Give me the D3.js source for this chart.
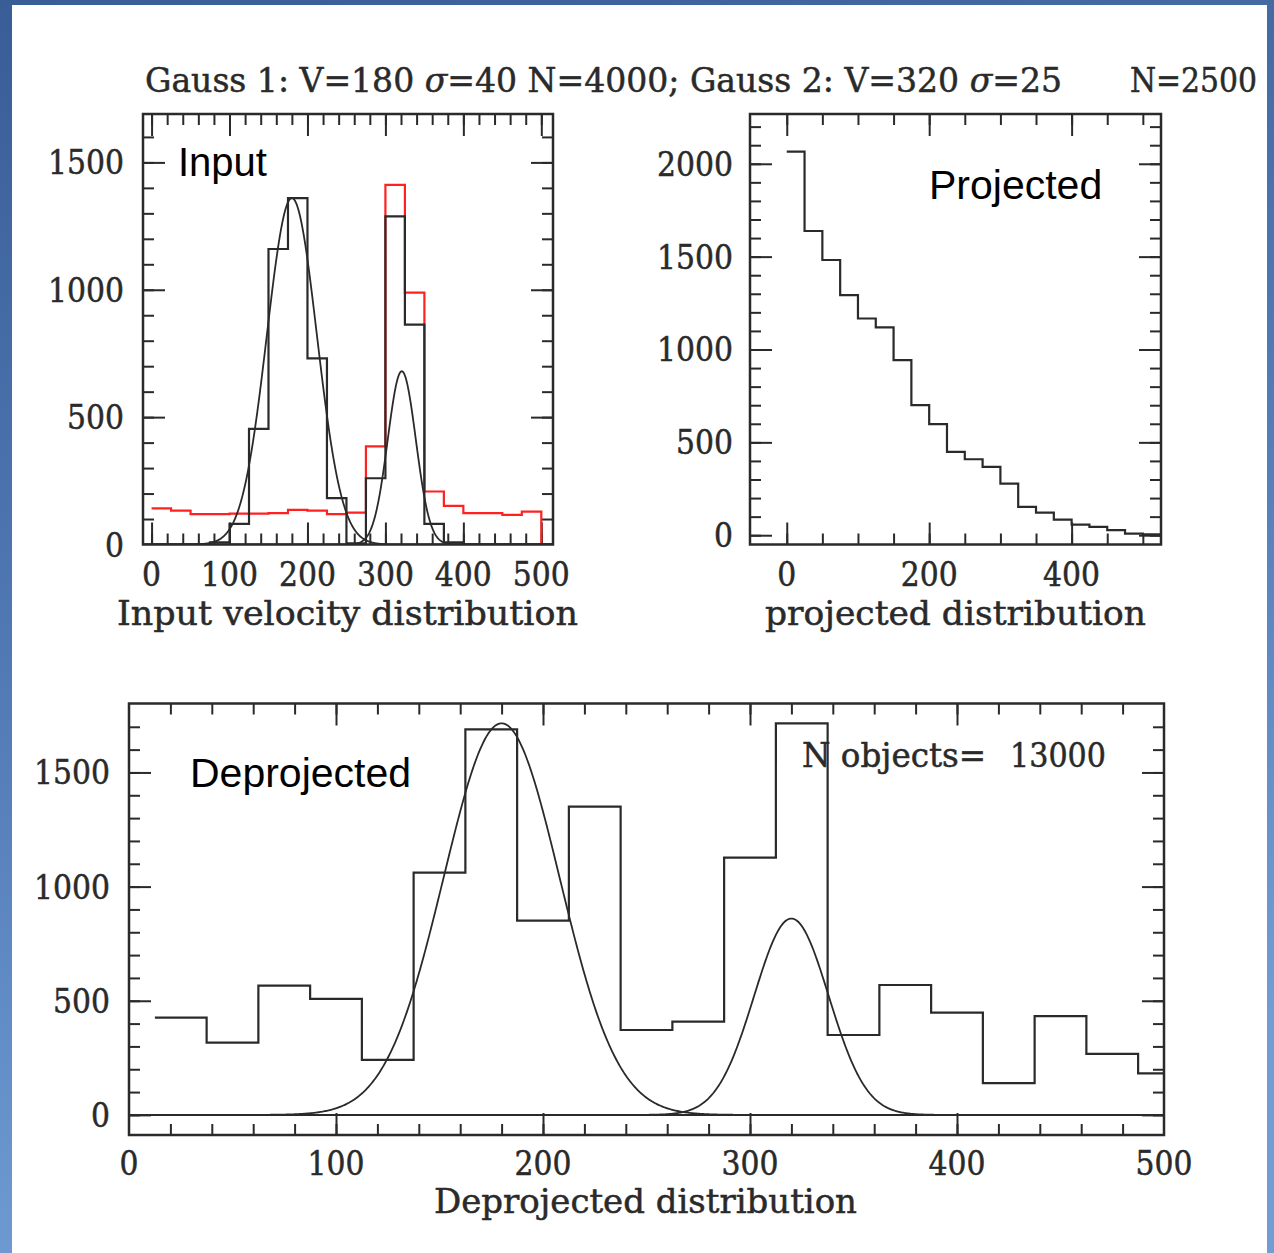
<!DOCTYPE html>
<html><head><meta charset="utf-8">
<script src="https://cdn.jsdelivr.net/npm/d3@7"></script>
<style>html,body{margin:0;padding:0;background:#fff;overflow:hidden}svg{display:block}</style>
</head><body>
<svg id="c" width="1274" height="1253"></svg>
<script>
// ---------------- DATA ----------------
const titleMain = ["Gauss 1: V=180 ", "σ", "=40 N=4000; Gauss 2: V=320 ", "σ", "=25"];
const titleN = "N=2500";

const binWidth = 25;

// Input panel (bins of 25, left edges)
const inputBinLeft = [0,25,50,75,100,125,150,175,200,225,250,275,300,325,350,375,400,425,450,475,500];
const inputSampled = [0,0,0,8,81,454,1160,1360,731,182,5,260,1288,863,81,8,0,0,0,0,0];
const inputTotal   = [142,133,119,119,121,121,123,136,133,119,125,385,1412,989,208,152,123,123,116,129,0];
const inputGaussCenter = [180, 321];
const inputGaussSigma  = [32, 18];
const inputGaussPeak   = [1360, 680];
const inputXTicks = [0,100,200,300,400,500];
const inputYTicks = [0,500,1000,1500];

// Projected panel
const projBinLeft = [0,25,50,75,100,125,150,175,200,225,250,275,300,325,350,375,400,425,450,475,500];
const projCounts  = [2065,1638,1482,1293,1167,1119,943,700,598,449,409,368,278,153,122,84,57,45,27,9,4];
const projXTicks = [0,200,400];
const projYTicks = [0,500,1000,1500,2000];

// Deprojected panel (bins centred on multiples of 25)
const deprojBinLeft = [12.5,37.5,62.5,87.5,112.5,137.5,162.5,187.5,212.5,237.5,262.5,287.5,312.5,337.5,362.5,387.5,412.5,437.5,462.5,487.5];
const deprojCounts  = [426,317,566,508,241,1061,1689,851,1350,372,409,1127,1715,350,569,448,139,433,267,182];
const deprojGaussCenter = [180, 320];
const deprojGaussSigma  = [28, 18];
const deprojGaussPeak   = [1715, 860];
const deprojXTicks = [0,100,200,300,400,500];
const deprojYTicks = [0,500,1000,1500];
const nObjectsLabel = ["N objects=", "13000"];

// ---------------- DRAW ----------------
const svg = d3.select("#c");
const defs = svg.append("defs");
const grad = defs.append("linearGradient").attr("id","bg").attr("x1",0).attr("y1",0).attr("x2",0.25).attr("y2",1);
grad.append("stop").attr("offset","0%").attr("stop-color","#395d96");
grad.append("stop").attr("offset","50%").attr("stop-color","#5179b4");
grad.append("stop").attr("offset","100%").attr("stop-color","#719dd4");
svg.append("rect").attr("width",1274).attr("height",1253).attr("fill","url(#bg)");
svg.append("rect").attr("x",12).attr("y",5).attr("width",1255).attr("height",1260).attr("fill","#fff");

const SERIF = "'DejaVu Serif', serif";
const SANS = "'Liberation Sans', Arial, sans-serif";
const INK = "#2a2a2a";
const FS = 33;      // serif size
const DIG = 19;     // digit advance in px

function serifText(x, y, str, anchor, width) {
  const t = svg.append("text").attr("x", x).attr("y", y)
    .attr("font-family", SERIF).attr("font-size", FS).attr("fill", INK)
    .attr("stroke", INK).attr("stroke-width", 0.5)
    .attr("text-anchor", anchor || "start").text(str);
  if (width) t.attr("textLength", width).attr("lengthAdjust", "spacingAndGlyphs");
  return t;
}

let clipId = 0;
function panel(cfg) {
  const x = d3.scaleLinear().domain(cfg.xDomain).range([cfg.left, cfg.right]);
  const y = d3.scaleLinear().domain(cfg.yDomain).range([cfg.bottom, cfg.top]);
  const g = svg.append("g");
  const id = "clip" + (clipId++);
  defs.append("clipPath").attr("id", id).append("rect")
    .attr("x", cfg.left).attr("y", cfg.top)
    .attr("width", cfg.right - cfg.left).attr("height", cfg.bottom - cfg.top);

  const inside = (s, lo, hi) => v => s(v) > lo + 1.5 && s(v) < hi - 1.5;
  const rng = (d, step) => d3.range(Math.ceil(d[0] / step) * step, d[1] + 1e-9, step);
  const xMinor = rng(cfg.xDomain, cfg.xMinor).filter(inside(x, cfg.left, cfg.right));
  const xMajor = cfg.xMajorTicks.filter(inside(x, cfg.left, cfg.right));
  const yMinor = rng(cfg.yDomain, cfg.yMinor).filter(v => y(v) < cfg.bottom - 1.5 && y(v) > cfg.top + 1.5);
  const yMajor = cfg.yMajorTicks.filter(v => y(v) < cfg.bottom - 1.5 && y(v) > cfg.top + 1.5);

  const MIN = 11, MAJ = 22;
  function axisG(gen, tr) {
    const a = g.append("g").attr("transform", tr).call(gen);
    a.select(".domain").remove();
    a.selectAll("line").attr("stroke", INK).attr("stroke-width", 2);
    a.selectAll("text").remove();
  }
  [[xMinor, MIN], [xMajor, MAJ]].forEach(([vals, len]) => {
    axisG(d3.axisBottom(x).tickValues(vals).tickSize(-len).tickFormat(""), `translate(0,${cfg.bottom})`);
    axisG(d3.axisTop(x).tickValues(vals).tickSize(-len).tickFormat(""), `translate(0,${cfg.top})`);
  });
  [[yMinor, MIN], [yMajor, MAJ]].forEach(([vals, len]) => {
    axisG(d3.axisLeft(y).tickValues(vals).tickSize(-len).tickFormat(""), `translate(${cfg.left},0)`);
    axisG(d3.axisRight(y).tickValues(vals).tickSize(-len).tickFormat(""), `translate(${cfg.right},0)`);
  });

  const plot = g.append("g").attr("clip-path", `url(#${id})`);
  if (cfg.zeroLine) {
    plot.append("line").attr("x1", cfg.left).attr("x2", cfg.right)
      .attr("y1", y(0)).attr("y2", y(0)).attr("stroke", INK).attr("stroke-width", 2);
  }
  const stepLine = d3.line().x(d => x(d[0])).y(d => y(d[1])).curve(d3.curveStepAfter);
  (cfg.hists || []).forEach(h => {
    const pts = h.left.map((b, i) => [b, h.counts[i]]);
    pts.push([h.left[h.left.length - 1] + binWidth, h.counts[h.counts.length - 1]]);
    plot.append("path").attr("d", stepLine(pts)).attr("fill", "none")
      .attr("stroke", h.color).attr("stroke-width", 2.2).attr("stroke-linejoin", "miter");
  });
  const curveLine = d3.line().x(d => x(d[0])).y(d => y(d[1]));
  (cfg.gauss || []).forEach(gs => {
    gs.center.forEach((c, i) => {
      const xs = d3.range(cfg.xDomain[0], cfg.xDomain[1] + 0.5, 0.5);
      const pts = xs.map(v => [v, gs.peak[i] * Math.exp(-((v - c) ** 2) / (2 * gs.sigma[i] ** 2))]);
      plot.append("path").attr("d", curveLine(pts)).attr("fill", "none")
        .attr("stroke", INK).attr("stroke-width", 1.8);
    });
  });

  g.append("rect").attr("x", cfg.left).attr("y", cfg.top)
    .attr("width", cfg.right - cfg.left).attr("height", cfg.bottom - cfg.top)
    .attr("fill", "none").attr("stroke", INK).attr("stroke-width", 2.5);

  // tick labels
  cfg.xMajorTicks.forEach(v => {
    const s = String(v);
    serifText(x(v), cfg.xLabelBase, s, "middle", s.length * DIG);
  });
  cfg.yMajorTicks.forEach(v => {
    const s = String(v);
    serifText(cfg.yLabelRight, y(v) + 12, s, "end", s.length * DIG);
  });
  serifText(cfg.titleX, cfg.titleBase, cfg.title, "start", cfg.titleW);
  return { x, y };
}

// Title
const tt = svg.append("text").attr("x", 145).attr("y", 92)
  .attr("font-family", SERIF).attr("font-size", FS).attr("fill", INK)
  .attr("stroke", INK).attr("stroke-width", 0.5)
  .attr("textLength", 917).attr("lengthAdjust", "spacingAndGlyphs");
titleMain.forEach(p => {
  const ts = tt.append("tspan").text(p);
  if (p === "σ") ts.attr("font-style", "italic");
});
serifText(1130, 92, titleN, "start", 127);

// Input panel
panel({
  left: 143, right: 553, top: 114, bottom: 544.5,
  xDomain: [-11, 515], yDomain: [0, 1690],
  xMajorTicks: inputXTicks, xMinor: 20, yMajorTicks: inputYTicks, yMinor: 100,
  xLabelBase: 586, yLabelRight: 124,
  title: "Input velocity distribution", titleX: 117, titleBase: 625, titleW: 461,
  hists: [
    { left: inputBinLeft, counts: inputTotal, color: "#ff2020" },
    { left: inputBinLeft, counts: inputSampled, color: INK }
  ],
  gauss: [{ center: inputGaussCenter, sigma: inputGaussSigma, peak: inputGaussPeak }]
});
svg.append("text").attr("x", 178).attr("y", 176).attr("font-family", SANS)
  .attr("font-size", 40).attr("fill", "#000").text("Input");

// Projected panel
panel({
  left: 750, right: 1161, top: 114, bottom: 544.5,
  xDomain: [-51.6, 525.5], yDomain: [-50, 2268],
  xMajorTicks: projXTicks, xMinor: 50, yMajorTicks: projYTicks, yMinor: 100,
  xLabelBase: 586, yLabelRight: 733,
  title: "projected distribution", titleX: 765, titleBase: 625, titleW: 381,
  hists: [{ left: projBinLeft, counts: projCounts, color: INK }]
});
svg.append("text").attr("x", 929).attr("y", 199).attr("font-family", SANS)
  .attr("font-size", 41).attr("fill", "#000").text("Projected");

// Deprojected panel
panel({
  left: 129, right: 1164, top: 703.5, bottom: 1135,
  xDomain: [0, 500], yDomain: [-88, 1802],
  xMajorTicks: deprojXTicks, xMinor: 20, yMajorTicks: deprojYTicks, yMinor: 100,
  xLabelBase: 1175, yLabelRight: 110,
  title: "Deprojected distribution", titleX: 434, titleBase: 1213, titleW: 423,
  zeroLine: true,
  hists: [{ left: deprojBinLeft, counts: deprojCounts, color: INK }],
  gauss: [{ center: deprojGaussCenter, sigma: deprojGaussSigma, peak: deprojGaussPeak }]
});
svg.append("text").attr("x", 190).attr("y", 787).attr("font-family", SANS)
  .attr("font-size", 41).attr("fill", "#000").text("Deprojected");
serifText(802, 767, nObjectsLabel[0], "start", 184);
serifText(1010, 767, nObjectsLabel[1], "start", 96);
</script>
</body></html>
